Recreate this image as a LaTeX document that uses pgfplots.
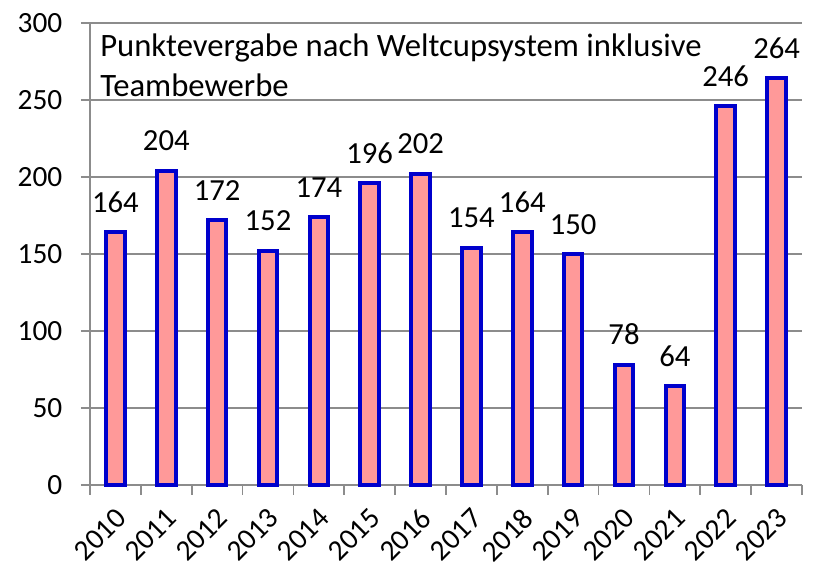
\documentclass[border=0pt]{standalone}
\usepackage{fontspec}
\setmainfont{Carlito}
\usepackage{pgfplots}
\pgfplotsset{compat=1.18}
\definecolor{barfill}{HTML}{FF9999}
\definecolor{barline}{HTML}{0000CC}
\definecolor{axgray}{HTML}{8C8C8C}
\newcommand{\ticklbl}{\fontsize{22}{26}\selectfont}
\newcommand{\datalbl}{\fontsize{23}{27}\selectfont}
\newcommand{\notelbl}{\fontsize{24.5}{29}\selectfont}

\begin{document}
\begin{tikzpicture}
  \begin{axis}[
    scale only axis,
    width=534pt, height=346.5pt,
    ybar, bar width=14pt, bar shift=0pt,
    xmin=-0.5, xmax=13.5,
    ymin=0, ymax=300,
    axis x line*=bottom, axis y line*=left,
    axis line style={axgray, line width=1.2pt},
    tick align=outside,
    /pgf/number format/assume math mode=true,
    ytick={0,50,...,300},
    yticklabel style={font=\ticklbl, xshift=-10.5pt},
    ymajorgrids, grid style={axgray, line width=1.2pt},
    xtick={0,...,13},
    xticklabels={2010,2011,2012,2013,2014,2015,2016,2017,2018,2019,2020,2021,2022,2023},
    xticklabel style={font=\ticklbl, xshift=-1pt, yshift=-4.6pt, rotate=45, anchor=north east},
    minor xtick={-0.5,0.5,...,13.5},
    major x tick style={draw=none},
    tick style={axgray, line width=1.2pt},
    major tick length=6.75pt, minor tick length=7.5pt,
    nodes near coords,
    every node near coord/.append style={font=\datalbl, black, yshift=10pt},
    clip=false,
  ]
    \addplot[fill=barfill, draw=barline, line width=3pt] coordinates {
      (0,164) (1,204) (2,172) (3,152) (4,174) (5,196) (6,202)
      (7,154) (8,164) (9,150) (10,78) (11,64) (12,246) (13,264)
    };
    \coordinate (ll) at (rel axis cs:0,0);
    \coordinate (ur) at (rel axis cs:1,1);
    \node[font=\notelbl, anchor=base west, inner sep=0pt] at ([xshift=7.5pt,yshift=-25.5pt]rel axis cs:0,1) {Punktevergabe nach Weltcupsystem inklusive};
    \node[font=\notelbl, anchor=base west, inner sep=0pt] at ([xshift=7.5pt,yshift=-55.5pt]rel axis cs:0,1) {Teambewerbe};
  \end{axis}
  \pgfresetboundingbox
  \useasboundingbox ([xshift=-67.5pt,yshift=-60.75pt]ll) rectangle ([xshift=12.75pt,yshift=17.25pt]ur);
\end{tikzpicture}
\end{document}
